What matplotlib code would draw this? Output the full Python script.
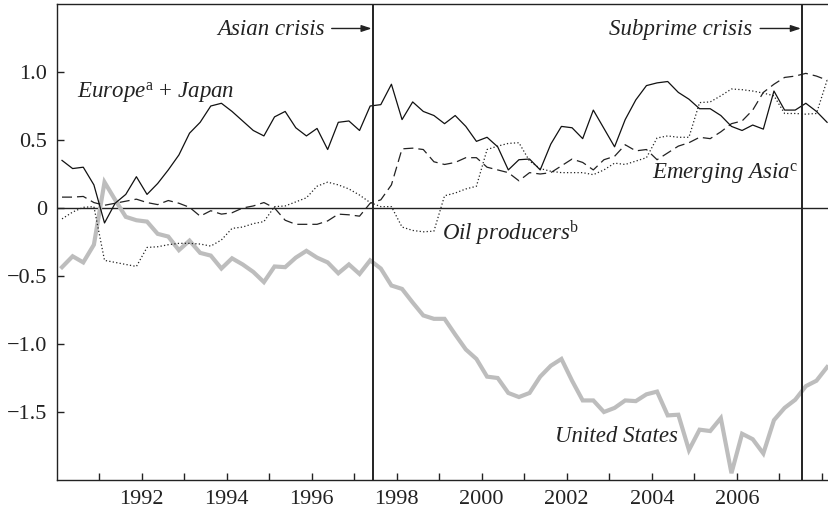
import numpy as np
import pandas as pd
import matplotlib
matplotlib.use("Agg")
import matplotlib.pyplot as plt

# ---------------- data (quarterly, 1990Q1 - 2008Q1) ----------------
quarters = pd.period_range("1990Q1", "2008Q1", freq="Q")

europe_japan = [0.35, 0.29, 0.30, 0.17, -0.11, 0.035, 0.10, 0.23, 0.10, 0.18,
                0.28, 0.39, 0.55, 0.63, 0.75, 0.77, 0.71, 0.64, 0.57, 0.53,
                0.67, 0.71, 0.59, 0.53, 0.585, 0.43, 0.63, 0.64, 0.57, 0.75,
                0.76, 0.91, 0.65, 0.78, 0.71, 0.68, 0.62, 0.68, 0.60, 0.49,
                0.52, 0.45, 0.28, 0.355, 0.36, 0.28, 0.47, 0.60, 0.59, 0.51,
                0.72, 0.585, 0.45, 0.65, 0.795, 0.90, 0.92, 0.93, 0.85, 0.80,
                0.73, 0.73, 0.68, 0.60, 0.57, 0.61, 0.58, 0.86, 0.72, 0.72,
                0.77, 0.71, 0.63]

emerging_asia = [0.08, 0.08, 0.085, 0.04, 0.02, 0.035, 0.05, 0.065, 0.04, 0.025,
                 0.055, 0.035, 0.005, -0.06, -0.02, -0.045, -0.035, 0.0, 0.015, 0.04,
                 0.0, -0.09, -0.12, -0.12, -0.12, -0.095, -0.045, -0.05, -0.06, 0.035,
                 0.06, 0.17, 0.435, 0.44, 0.43, 0.34, 0.32, 0.335, 0.37, 0.37,
                 0.30, 0.28, 0.26, 0.20, 0.26, 0.25, 0.26, 0.31, 0.36, 0.335,
                 0.28, 0.355, 0.38, 0.465, 0.42, 0.43, 0.355, 0.405, 0.455, 0.48,
                 0.52, 0.51, 0.56, 0.62, 0.64, 0.72, 0.85, 0.91, 0.96, 0.97,
                 0.99, 0.97, 0.94]

oil_producers = [-0.08, -0.03, 0.005, 0.01, -0.385, -0.40, -0.415, -0.43, -0.29, -0.285,
                 -0.27, -0.26, -0.26, -0.265, -0.28, -0.235, -0.15, -0.14, -0.115, -0.10,
                 0.01, 0.015, 0.045, 0.075, 0.16, 0.19, 0.17, 0.14, 0.095, 0.04,
                 0.01, 0.01, -0.14, -0.165, -0.175, -0.17, 0.09, 0.11, 0.14, 0.16,
                 0.43, 0.455, 0.475, 0.48, 0.345, 0.29, 0.27, 0.26, 0.26, 0.26,
                 0.245, 0.28, 0.33, 0.32, 0.345, 0.37, 0.515, 0.53, 0.52, 0.52,
                 0.775, 0.78, 0.825, 0.875, 0.87, 0.86, 0.845, 0.825, 0.695, 0.695,
                 0.69, 0.695, 0.94]

united_states = [-0.435, -0.355, -0.40, -0.27, 0.19, 0.06, -0.065, -0.09, -0.10, -0.19,
                 -0.21, -0.31, -0.24, -0.33, -0.35, -0.445, -0.37, -0.415, -0.47, -0.545,
                 -0.43, -0.435, -0.365, -0.315, -0.365, -0.40, -0.48, -0.415, -0.485, -0.385,
                 -0.445, -0.57, -0.595, -0.695, -0.79, -0.815, -0.815, -0.93, -1.04, -1.11,
                 -1.24, -1.25, -1.36, -1.39, -1.36, -1.24, -1.16, -1.11, -1.27, -1.415,
                 -1.415, -1.50, -1.47, -1.415, -1.42, -1.37, -1.35, -1.525, -1.52, -1.78,
                 -1.63, -1.64, -1.545, -1.95, -1.66, -1.70, -1.805, -1.56, -1.47, -1.41,
                 -1.31, -1.27, -1.17]

crisis_dates = [1997.43, 2007.53]
crisis_labels = ["Asian crisis", "Subprime crisis"]

x_major = [1992, 1994, 1996, 1998, 2000, 2002, 2004, 2006]
x_minor = list(range(1991, 2009))
y_ticks = [-1.5, -1.0, -0.5, 0.0, 0.5, 1.0]
y_ticklabels = ["\u22121.5", "\u22121.0", "\u22120.5", "0", "0.5", "1.0"]

# ---------------- style ----------------
plt.rcParams["font.family"] = ["Liberation Serif", "DejaVu Serif"]
plt.rcParams["mathtext.fontset"] = "custom"
plt.rcParams["mathtext.rm"] = "Liberation Serif"
plt.rcParams["mathtext.it"] = "Liberation Serif:italic"

t = np.array([q.year + (q.quarter - 1) / 4 + 0.125 for q in quarters])

fig = plt.figure(figsize=(8.29, 5.12), dpi=100)
ax = fig.add_axes([56.7 / 829, 32 / 512, 1 - 56.7 / 829, (480 - 4) / 512])

txt = "#222222"
ax.plot(t, united_states, color="#bdbdbd", lw=3.0, solid_joinstyle="miter", zorder=2)
ax.plot(t, oil_producers, color="#222222", lw=0.9, linestyle=(0, (1, 1.8)), zorder=3)
ax.plot(t, emerging_asia, color="#222222", lw=0.9, linestyle=(0, (8, 4)), zorder=3)
ax.plot(t, europe_japan, color="#111111", lw=0.9, zorder=4)

ax.axhline(0, color="#222222", lw=1.0, zorder=1)
for d in crisis_dates:
    ax.axvline(d, color="#222222", lw=1.4, zorder=5)

ax.set_xlim(1990, 2008.17)
ax.set_ylim(-2.0, 1.5)

ax.set_xticks(x_minor, minor=True)
ax.set_xticks(x_major)
ax.set_xticklabels([str(y) for y in x_major])
ax.set_yticks(y_ticks)
ax.set_yticklabels(y_ticklabels)

ax.tick_params(axis="both", which="both", direction="in", length=5, width=1.0,
               color="#222222", labelsize=16, labelcolor=txt)
ax.tick_params(axis="x", pad=7)
ax.tick_params(axis="y", pad=7)
ax.tick_params(axis="x", which="major", top=False)

for s in ["left", "top", "bottom"]:
    ax.spines[s].set_linewidth(1.0)
    ax.spines[s].set_color("#222222")
ax.spines["right"].set_visible(False)

fs = 16.5
# crisis annotations
ax.text(1996.3, 1.269, crisis_labels[0], style="italic", fontsize=fs, color=txt,
        ha="right", va="baseline")
ax.annotate("", xy=(crisis_dates[0] - 0.02, 1.32), xytext=(1996.47, 1.32),
            arrowprops=dict(arrowstyle="-|>,head_length=0.6,head_width=0.2",
                            color="#222222", lw=1.0, shrinkA=0, shrinkB=0))
ax.text(2006.35, 1.269, crisis_labels[1], style="italic", fontsize=fs, color=txt,
        ha="right", va="baseline")
ax.annotate("", xy=(crisis_dates[1] - 0.02, 1.32), xytext=(2006.55, 1.32),
            arrowprops=dict(arrowstyle="-|>,head_length=0.6,head_width=0.2",
                            color="#222222", lw=1.0, shrinkA=0, shrinkB=0))

# series labels
ax.text(1990.47, 0.81, r"$\mathit{Europe}^{\mathrm{a}}$ + $\mathit{Japan}$",
        fontsize=fs, color=txt, ha="left", va="baseline")
ax.text(1999.06, -0.237, r"Oil producers$^{\mathrm{b}}$", style="italic",
        fontsize=fs, color=txt, ha="left", va="baseline")
ax.text(2004.0, 0.215, r"Emerging Asia$^{\mathrm{c}}$", style="italic",
        fontsize=fs, color=txt, ha="left", va="baseline")
ax.text(2001.73, -1.724, "United States", style="italic",
        fontsize=fs, color=txt, ha="left", va="baseline")

fig.savefig("out.png", dpi=100)
